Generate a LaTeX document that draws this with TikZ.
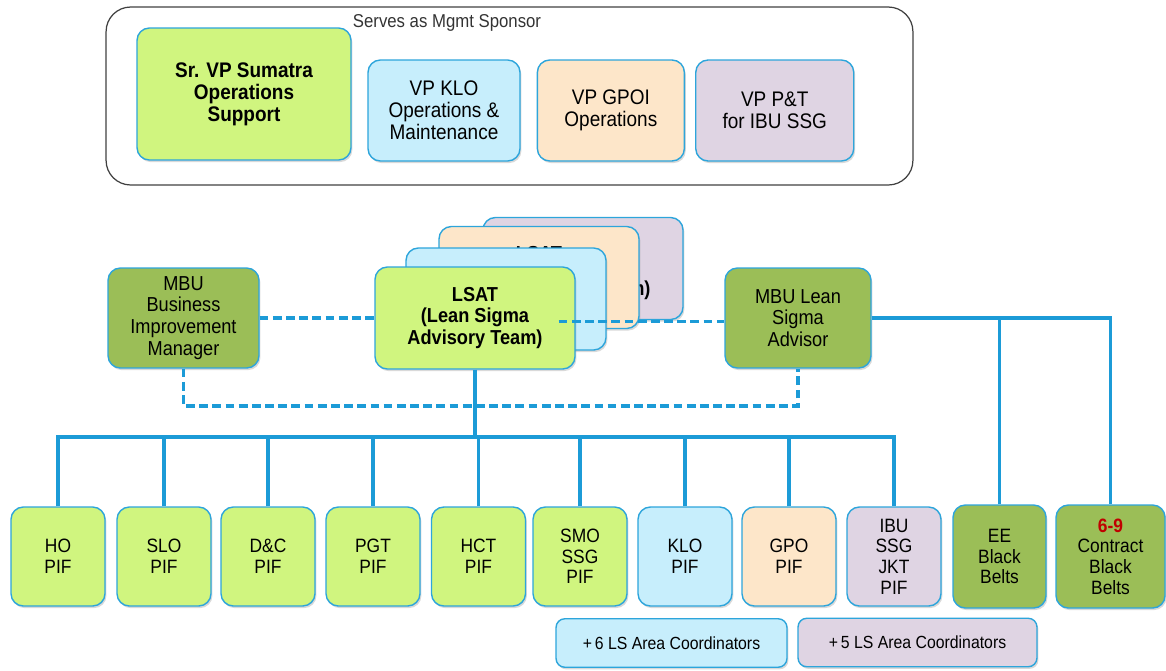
\documentclass[tikz,border=0pt]{standalone}
\usepackage{fontspec}
\setmainfont[FakeStretch=0.9]{Liberation Sans}
\usetikzlibrary{positioning, shadows}

\definecolor{pifgreen}{HTML}{D0F57F}
\definecolor{mbugreen}{HTML}{9BBE57}
\definecolor{klofill}{HTML}{C7EEFC}
\definecolor{gpofill}{HTML}{FDE6C9}
\definecolor{ibufill}{HTML}{DFD4E3}
\definecolor{boxedge}{HTML}{2DA5DB}
\definecolor{linkblue}{HTML}{1C9BD7}
\definecolor{redtext}{HTML}{C00000}

\tikzset{box/.style = {draw = boxedge, line width = 0.8pt,
                       rounded corners = 7pt, align = center,
                       inner sep = 1pt,
                       drop shadow = {shadow xshift = 0.8pt,
                                      shadow yshift = -1.2pt,
                                      opacity = 0.3}},
         topbox/.style = {box, font = \fontsize{12}{12.6}\selectfont,
                          minimum height = 2.02cm},
         midbox/.style = {box, font = \fontsize{11.5}{12.4}\selectfont,
                          minimum height = 2cm},
         pif/.style = {box, font = \fontsize{11}{11.8}\selectfont,
                       minimum width = 1.88cm, minimum height = 1.98cm},
         card/.style = {midbox, font = \bfseries\fontsize{11.5}{12.4}\selectfont,
                        minimum width = 4cm, minimum height = 2.04cm},
         coord/.style = {box, rounded corners = 5pt,
                         font = \fontsize{10}{11}\selectfont,
                         minimum height = 0.97cm},
         link/.style = {draw = linkblue, line width = 2.2pt},
         dlink/.style = {link, dash pattern = on 5pt off 2.5pt}}

\begin{document}
\begin{tikzpicture}[x = 0.02cm, y = -0.02cm]
    \useasboundingbox (0,0) rectangle (1166,670);

    % sponsors
    \node[draw = black!75, line width = 0.7pt, rounded corners = 14pt,
          minimum width = 16.14cm, minimum height = 3.56cm] (sponsors) at (509.5,96) {};
    \node[font = \fontsize{10.6}{11}\selectfont, text = black!80] (sponsortext) at (447,23) {Serves as Mgmt Sponsor};
    \node[topbox, fill = pifgreen, font = \bfseries\fontsize{12}{12.6}\selectfont,
          minimum width = 4.28cm, minimum height = 2.64cm] (srvp) at (244,94)
          {Sr. VP Sumatra\\Operations\\Support};
    \node[topbox, fill = klofill, minimum width = 3.04cm]  (vpklo)  at (444,110.5) {VP KLO\\Operations \&\\Maintenance};
    \node[topbox, fill = gpofill, minimum width = 2.94cm]  (vpgpoi) [right = 0.32cm of vpklo] {VP GPOI\\Operations};
    \node[topbox, fill = ibufill, minimum width = 3.16cm]  (vppt)   [right = 0.2cm of vpgpoi]  {VP P\&T\\for IBU SSG};

    % advisory team and the MBU roles
    \node[card, fill = ibufill]   (lsatp) at (583,268.5) {LSAT\\(Lean Sigma\\Advisory Team)};
    \node[card, fill = gpofill]   (lsato) at (539,277.5) {LSAT\\(Lean Sigma\\Advisory Team)};
    \node[card, fill = klofill]   (lsatb) at (506,299)   {LSAT\\(Lean Sigma\\Advisory Team)};
    \node[card, fill = pifgreen]  (lsat)  at (475,318)   {LSAT\\(Lean Sigma\\Advisory Team)};
    \node[midbox, fill = mbugreen, minimum width = 3.02cm] (mbubim) at (183.5,318) {MBU\\Business\\Improvement\\Manager};
    \node[midbox, fill = mbugreen, minimum width = 2.92cm] (mbulsa) at (798,318)   {MBU Lean\\Sigma\\Advisor};

    % PIF row
    \foreach \name/\x/\fillc/\txt in {ho/58/pifgreen/HO\\PIF,
                                      slo/164/pifgreen/SLO\\PIF,
                                      dc/268/pifgreen/D\&C\\PIF,
                                      pgt/373/pifgreen/PGT\\PIF,
                                      hct/478.5/pifgreen/HCT\\PIF,
                                      smo/580/pifgreen/SMO\\SSG\\PIF,
                                      klo/685/klofill/KLO\\PIF,
                                      gpo/789/gpofill/GPO\\PIF,
                                      ibu/894/ibufill/IBU\\SSG\\JKT\\PIF}
        \node[pif, fill = \fillc] (\name) at (\x,556.5) {\txt};

    \node[pif, fill = mbugreen, minimum width = 1.86cm, minimum height = 2.06cm] (ee) at (999.5,556.5) {EE\\Black\\Belts};
    \node[pif, fill = mbugreen, minimum width = 2.18cm, minimum height = 2.06cm] (contract) at (1110.5,556.5)
          {\textcolor{redtext}{\bfseries 6-9}\\Contract\\Black\\Belts};

    \node[coord, fill = klofill, minimum width = 4.62cm] (coordklo) at (671.5,643)   {+\,6 LS Area Coordinators};
    \node[coord, fill = ibufill, minimum width = 4.78cm] (coordibu) at (917.5,642.5) {+\,5 LS Area Coordinators};

    % reporting lines
    \coordinate (bus) at (475,437);
    \draw[link] (lsat.south) -- (lsat.south |- bus);
    \draw[link] (ho.north) |- (ibu.north |- bus) -- (ibu.north);
    \foreach \name in {slo, dc, pgt, hct, smo, klo, gpo}
        \draw[link] (\name.north) -- (\name.north |- bus);
    \draw[link] (mbulsa.east) -| (contract.north);
    \draw[link] (ee.north) -- (ee.north |- mbulsa.east);

    \draw[dlink] (mbubim.east) -- (lsat.west);
    \draw[dlink] ([xshift = -0.34cm, yshift = -2pt]lsat.east) -- ([yshift = -2pt]mbulsa.west);
    \draw[dlink] (mbubim.south) -- ++(0,37) -| (mbulsa.south);
\end{tikzpicture}
\end{document}
